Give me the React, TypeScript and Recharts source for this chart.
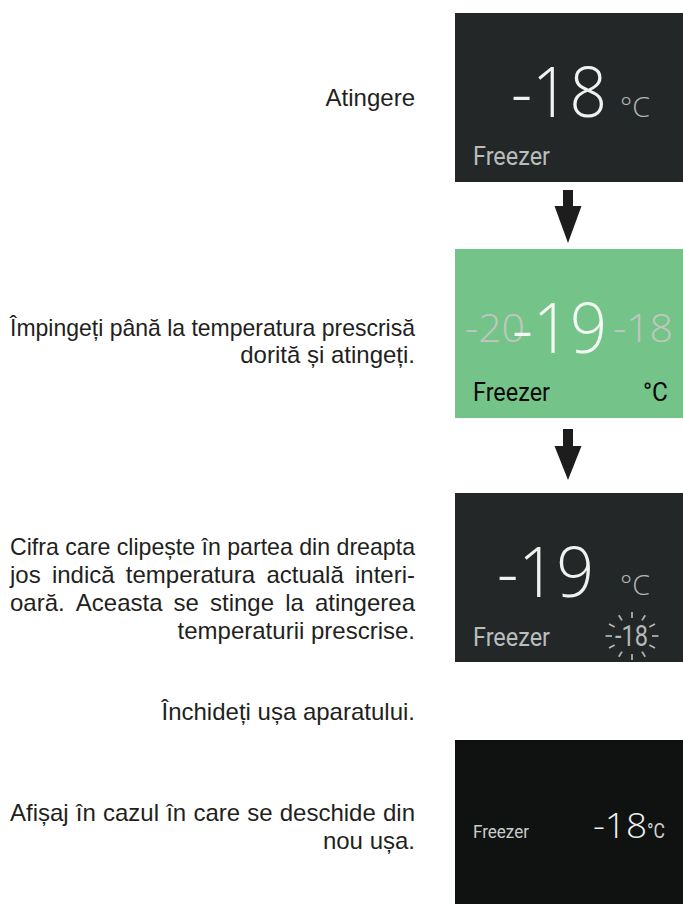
import React, { useMemo } from 'react';
import { Surface, Layer, Rectangle, Polygon } from 'recharts';

// ---------- content ----------
const stepTexts: string[][] = [
  ['Atingere'],
  ['Împingeți până la temperatura prescrisă', 'dorită și atingeți.'],
  [
    'Cifra care clipește în partea din dreapta',
    'jos indică temperatura actuală interi-',
    'oară. Aceasta se stinge la atingerea',
    'temperaturii prescrise.',
  ],
  ['Închideți ușa aparatului.'],
  ['Afișaj în cazul în care se deschide din', 'nou ușa.'],
];
const zoneLabel = 'Freezer';
const unitLabel = '°C';
const setTemperatures = [-18, -19, -19, -18];
const scrollNeighbours = [-20, -18];
const actualTemperature = -18;

// ---------- layout / style ----------
const W = 683;
const H = 904;
const TEXT_LEFT = 10;
const TEXT_RIGHT = 415;
const TEXT_FONT = '"Liberation Sans", Arial, Helvetica, sans-serif';
const TEXT_SIZE = 24;
const TEXT_COLOR = '#231f20';
const NUM_FONT = '"Open Sans", Lato, sans-serif';
const NUM_WEIGHT = 350;
const LBL_FONT = 'Roboto, "Noto Sans", sans-serif';

const stepBaselines = [[106], [336, 363], [555, 583, 611, 639], [720], [821, 849]];
const stepAlign = [['r'], ['j', 'r'], ['j', 'j', 'j', 'r'], ['r'], ['j', 'r']];

const PANEL_X = 455;
const panelTops = [13, 249, 493, 740];
const PANEL_H = 169;

let _ctx: CanvasRenderingContext2D | null = null;
function measure(text: string, size: number, family: string): number {
  if (!_ctx) {
    const c = document.createElement('canvas');
    _ctx = c.getContext('2d');
  }
  if (!_ctx) return text.length * size * 0.5;
  _ctx.font = `${size}px ${family}`;
  return _ctx.measureText(text).width;
}

function TextLine({ text, align, y }: { text: string; align: string; y: number }) {
  const common = { fontFamily: TEXT_FONT, fontSize: TEXT_SIZE, fill: TEXT_COLOR };
  if (align === 'r') {
    return (
      <text x={TEXT_RIGHT} y={y} textAnchor="end" {...common}>
        {text}
      </text>
    );
  }
  const words = text.split(' ');
  const widths = words.map((w) => measure(w, TEXT_SIZE, TEXT_FONT));
  const total = widths.reduce((a, b) => a + b, 0);
  const span = TEXT_RIGHT - TEXT_LEFT;
  const gap = (span - total) / Math.max(1, words.length - 1);
  if (gap < TEXT_SIZE * 0.22) {
    return (
      <text x={TEXT_LEFT} y={y} textLength={span} lengthAdjust="spacingAndGlyphs" {...common}>
        {text}
      </text>
    );
  }
  let x = TEXT_LEFT;
  return (
    <g>
      {words.map((w, i) => {
        const el = (
          <text key={i} x={x} y={y} {...common}>
            {w}
          </text>
        );
        x += widths[i] + gap;
        return el;
      })}
    </g>
  );
}

function Arrow({ top, headTop, tip }: { top: number; headTop: number; tip: number }) {
  const cx = 568;
  const sw = 5;
  const hw = 13.5;
  const pts = [
    { x: cx - sw, y: top },
    { x: cx + sw, y: top },
    { x: cx + sw, y: headTop },
    { x: cx + hw, y: headTop },
    { x: cx, y: tip },
    { x: cx - hw, y: headTop },
    { x: cx - sw, y: headTop },
  ];
  return <Polygon points={pts} fill="#1d1d1d" stroke="none" />;
}

function Rays({ cx, cy }: { cx: number; cy: number }) {
  const lines = [];
  for (let k = 0; k < 12; k++) {
    const a = (k * Math.PI) / 6;
    const c = Math.cos(a);
    const s = Math.sin(a);
    lines.push(
      <line
        key={k}
        x1={cx + 20 * c}
        y1={cy + 18 * s}
        x2={cx + 26.5 * c}
        y2={cy + 24 * s}
        stroke="#b3b7b5"
        strokeWidth={1.7}
      />
    );
  }
  return <g>{lines}</g>;
}

export default function App() {
  const fmt = (v: number) => String(v);
  const textBlocks = useMemo(
    () =>
      stepTexts.map((lines, si) =>
        lines.map((ln, li) => (
          <TextLine key={`${si}-${li}`} text={ln} align={stepAlign[si][li]} y={stepBaselines[si][li]} />
        ))
      ),
    []
  );

  return (
    <div style={{ position: 'absolute', left: 0, top: 0, width: W, height: H, background: '#fff' }}>
      <Surface width={W} height={H} viewBox={{ x: 0, y: 0, width: W, height: H }}>
        <Layer>{textBlocks}</Layer>

        {/* Panel 1 */}
        <Layer>
          <Rectangle x={PANEL_X} y={panelTops[0]} width={W - PANEL_X} height={PANEL_H} fill="#232728" />
          <text x={511} y={117} fontFamily={NUM_FONT} fontWeight={NUM_WEIGHT} fontSize={70} fill="#eef3ef" textLength={96} lengthAdjust="spacingAndGlyphs">
            {fmt(setTemperatures[0])}
          </text>
          <text x={620} y={117} fontFamily={NUM_FONT} fontWeight={NUM_WEIGHT} fontSize={28} fill="#b1b5b3" textLength={30} lengthAdjust="spacingAndGlyphs">
            {unitLabel}
          </text>
          <text x={473} y={165} fontFamily={LBL_FONT} fontSize={25} fill="#b9bdbb" textLength={77} lengthAdjust="spacingAndGlyphs">
            {zoneLabel}
          </text>
        </Layer>
        <Arrow top={190} headTop={206} tip={243} />

        {/* Panel 2 */}
        <Layer>
          <Rectangle x={PANEL_X} y={panelTops[1]} width={W - PANEL_X} height={PANEL_H} fill="#74c48a" />
          <text x={465} y={342} fontFamily={NUM_FONT} fontWeight={NUM_WEIGHT} fontSize={39} fill="#c2c6c1" textLength={60} lengthAdjust="spacingAndGlyphs">
            {fmt(scrollNeighbours[0])}
          </text>
          <text x={613} y={342} fontFamily={NUM_FONT} fontWeight={NUM_WEIGHT} fontSize={39} fill="#c2c6c1" textLength={60} lengthAdjust="spacingAndGlyphs">
            {fmt(scrollNeighbours[1])}
          </text>
          <text x={512} y={353} fontFamily={NUM_FONT} fontWeight={NUM_WEIGHT} fontSize={70} fill="#f3f8f3" textLength={95} lengthAdjust="spacingAndGlyphs">
            {fmt(setTemperatures[1])}
          </text>
          <text x={473} y={401} fontFamily={LBL_FONT} fontSize={25} fill="#0a0a0a" textLength={77} lengthAdjust="spacingAndGlyphs">
            {zoneLabel}
          </text>
          <text x={643} y={401} fontFamily={LBL_FONT} fontSize={26} fill="#0a0a0a" textLength={25} lengthAdjust="spacingAndGlyphs">
            {unitLabel}
          </text>
        </Layer>
        <Arrow top={429} headTop={446} tip={480} />

        {/* Panel 3 */}
        <Layer>
          <Rectangle x={PANEL_X} y={panelTops[2]} width={W - PANEL_X} height={PANEL_H} fill="#232728" />
          <text x={497} y={597} fontFamily={NUM_FONT} fontWeight={NUM_WEIGHT} fontSize={70} fill="#eef3ef" textLength={97} lengthAdjust="spacingAndGlyphs">
            {fmt(setTemperatures[2])}
          </text>
          <text x={620} y={595} fontFamily={NUM_FONT} fontWeight={NUM_WEIGHT} fontSize={28} fill="#b1b5b3" textLength={30} lengthAdjust="spacingAndGlyphs">
            {unitLabel}
          </text>
          <text x={473} y={646} fontFamily={LBL_FONT} fontSize={25} fill="#b9bdbb" textLength={77} lengthAdjust="spacingAndGlyphs">
            {zoneLabel}
          </text>
          <text x={615} y={646} fontFamily={LBL_FONT} fontSize={29} fill="#b5b9b7" textLength={33} lengthAdjust="spacingAndGlyphs">
            {fmt(actualTemperature)}
          </text>
          <Rays cx={632} cy={636} />
        </Layer>

        {/* Panel 4 */}
        <Layer>
          <Rectangle x={PANEL_X} y={panelTops[3]} width={W - PANEL_X} height={H - panelTops[3]} fill="#101211" />
          <text x={473} y={838} fontFamily={LBL_FONT} fontSize={18} fill="#c8ccca" textLength={56} lengthAdjust="spacingAndGlyphs">
            {zoneLabel}
          </text>
          <text x={593} y={838} fontFamily={NUM_FONT} fontWeight={NUM_WEIGHT} fontSize={35} fill="#eef2ef" textLength={54} lengthAdjust="spacingAndGlyphs">
            {fmt(setTemperatures[3])}
          </text>
          <text x={647} y={838} fontFamily={LBL_FONT} fontSize={20} fill="#d0d3d1" textLength={18} lengthAdjust="spacingAndGlyphs">
            {unitLabel}
          </text>
        </Layer>
      </Surface>
    </div>
  );
}
